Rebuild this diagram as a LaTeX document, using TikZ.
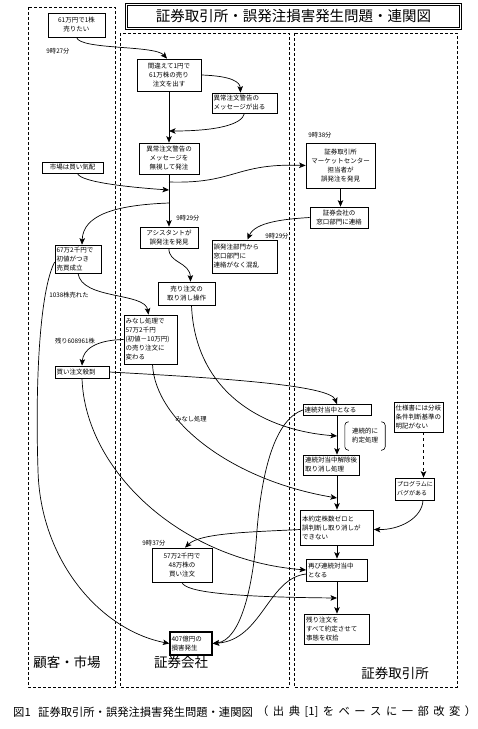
\documentclass[tikz,border=0pt]{standalone}
\usepackage{fontspec}
\newfontfamily\jp{Noto Sans CJK JP}
\usetikzlibrary{arrows.meta}
\tikzset{
  lane/.style={draw, dash pattern=on 3pt off 2pt, line width=0.8pt},
  box/.style={draw, line width=0.7pt, inner sep=1.5pt, font=\jp\fontsize{6.5}{9}\selectfont, align=center},
  lbox/.style={box, align=left},
  arr/.style={line width=0.7pt, -{Stealth[length=6.5pt,width=5.5pt,inset=1.5pt]}},
  lbl/.style={font=\jp\fontsize{6.3}{7}\selectfont, inner sep=0pt},
  lanelbl/.style={font=\jp\fontsize{13.5}{15}\selectfont, inner sep=0pt},
  captxt/.style={font=\jp\fontsize{11.3}{13}\selectfont, inner sep=0pt, anchor=west},
}
\begin{document}
\begin{tikzpicture}[x=1pt,y=-1pt]
\useasboundingbox (0,0) rectangle (478,729);
% lanes
\draw[lane] (28,7) rectangle (115,687);
\draw[lane] (120,33) rectangle (289,687);
\draw[lane] (294,33) rectangle (457,687);
\node[draw, double, double distance=1.8pt, line width=0.5pt, minimum width=334pt, minimum height=24pt, inner sep=0pt,
  font=\jp\fontsize{14.5}{16}\selectfont] (title) at (293.5,16.5) {証券取引所・誤発注損害発生問題・連関図};
\node[lanelbl] (L1) at (67,662) {顧客・市場};
\node[lanelbl] (L2) at (181,662) {証券会社};
\node[lanelbl] (L3) at (395,673) {証券取引所};
% caption
\node[captxt] (cap1) at (13,712) {図1};
\node[captxt] (cap2) at (38,712) {証券取引所・誤発注損害発生問題・連関図};
\node[captxt] (cap3) at (257,712)
  {\makebox[219pt][l]{（\hfill 出\hfill 典\hfill [1]\hfill を\hfill ベ\hfill ー\hfill ス\hfill に\hfill 一\hfill 部\hfill 改\hfill 変\hfill ）}};
% nodes
\node[box, minimum width=57pt, minimum height=24pt] (n1) at (76.5,25) {61万円で1株\\売りたい};
\node[box, minimum width=64pt, minimum height=32pt] (n2) at (169,75) {間違えて1円で\\61万株の売り\\注文を出す};
\node[lbox, text width=62pt, minimum height=20pt] (n3) at (244.5,103) {異常注文警告の\\メッセージが出る};
\node[box, minimum width=60pt, minimum height=31pt] (n4) at (169,158.5) {異常注文警告の\\メッセージを\\無視して発注};
\node[box, minimum width=61pt, minimum height=11pt] (n5) at (72.5,167.5) {市場は買い気配};
\node[box, minimum width=69pt, minimum height=45pt] (n6) at (340.5,165.5) {証券取引所\\マーケットセンター\\担当者が\\誤発注を発見};
\node[box, minimum width=58pt, minimum height=21pt] (n7) at (339,217.5) {証券会社の\\窓口部門に連絡};
\node[box, minimum width=58pt, minimum height=21pt] (n8) at (169,237.5) {アシスタントが\\誤発注を発見};
\node[lbox, text width=43pt, minimum height=28pt] (n9) at (78,259) {67万2千円で\\初値がつき\\売買成立};
\node[lbox, text width=62pt, minimum height=33pt] (n10) at (244.5,256.5) {誤発注部門から\\窓口部門に\\連絡がなく混乱};
\node[box, minimum width=57pt, minimum height=23pt] (n11) at (186.5,293.5) {売り注文の\\取り消し操作};
\node[lbox, text width=50pt, minimum height=49pt] (n12) at (150.5,339.5) {みなし処理で\\57万2千円\\(初値－10万円)\\の売り注文に\\変わる};
\node[lbox, text width=51pt, minimum height=12pt] (n13) at (82,372) {買い注文殺到};
\node[lbox, text width=65pt, minimum height=11pt] (n14) at (337,410) {連続対当中となる};
\node[font=\jp\fontsize{6.5}{9}\selectfont, align=left, minimum width=40pt, minimum height=28pt, inner sep=1pt] (bn) at (365,436) {連続的に\\約定処理};
\draw[line width=0.6pt, rounded corners=3.5pt] ([xshift=4pt]bn.north west) -- (bn.north west) -- (bn.south west) -- ([xshift=4pt]bn.south west);
\draw[line width=0.6pt, rounded corners=3.5pt] ([xshift=-4pt]bn.north east) -- (bn.north east) -- (bn.south east) -- ([xshift=-4pt]bn.south east);
\node[lbox, text width=53pt, minimum height=20pt] (n16) at (331.5,465) {連続対当中解除後\\取り消し処理};
\node[lbox, text width=46pt, minimum height=30pt] (n17) at (418.5,417) {仕様書には分岐\\条件判断基準の\\明記がない};
\node[lbox, text width=36pt, minimum height=22pt, font=\jp\fontsize{6}{9}\selectfont] (n18) at (415,489) {プログラムに\\バグがある};
\node[lbox, text width=70pt, minimum height=35pt] (n19) at (337,527.5) {本約定株数ゼロと\\誤判断し取り消しが\\できない};
\node[box, minimum width=60pt, minimum height=34pt] (n20) at (182,565) {57万2千円で\\48万株の\\買い注文};
\node[lbox, text width=58pt, minimum height=22pt] (n21) at (337,570) {再び連続対当中\\となる};
\node[lbox, text width=62pt, minimum height=30pt] (n22) at (337,629) {残り注文を\\すべて約定させて\\事態を収拾};
\node[lbox, text width=39pt, minimum height=23pt, line width=1.3pt] (n23) at (191,643.5) {407億円の\\損害発生};
% labels
\node[lbl] (t1) at (58,51) {9時27分};
\node[lbl] (t2) at (320,135) {9時38分};
\node[lbl] (t3) at (188,218) {9時29分};
\node[lbl] (t4) at (277,236) {9時29分};
\node[lbl] (t5) at (154,543) {9時37分};
\node[lbl] (s1) at (69,295) {1038株売れた};
\node[lbl] (s2) at (75,341) {残り608961株};
\node[lbl] (mn) at (191,419) {みなし処理};
% junction coordinates
\coordinate (j0) at (169,182);
\coordinate (j1) at (169,131);
\coordinate (j2) at (169,190);
\coordinate (jh) at (169,203);
\coordinate (j3) at (337,436);
\coordinate (j4) at (337,498);
\coordinate (j5) at (337,598);
% connectors
\draw[arr] (n1.south) .. controls (80,50) and (155,45) .. ([xshift=-2pt]n2.north);
\draw[arr] (n2.east) .. controls (232,76) and (240,82) .. ([xshift=-4pt]n3.north);
\draw[arr] (n2) -- (n4);
\draw[arr] (n3.south) .. controls (242,125) and (215,131) .. (j1);
\draw[arr] (n4) -- (n8);
\draw[arr] ([xshift=5pt]n5.south) .. controls (80,183) and (140,188) .. (j2);
\draw[arr] (j0) .. controls (235,184) and (235,163) .. (n6.west);
\draw[arr] (jh) .. controls (115,205) and (83,215) .. ([xshift=4pt]n9.north);
\draw[arr] (n6.south) -- (n6.south |- n7.north);
\draw[arr] (n7.west) .. controls (285,219) and (255,222) .. ([xshift=3pt]n10.north);
\draw[arr] (n8.south) .. controls (168,263) and (190,262) .. ([xshift=4pt]n11.north);
\draw[arr] (n9.south) .. controls (82,300) and (145,292) .. ([xshift=-2pt]n12.north);
\draw[arr] (n12.west) .. controls (95,340) and (83,350) .. (n13.north);
\draw[arr] ([xshift=5pt]n11.south) .. controls (195,390) and (260,430) .. (j3);
\draw[arr] ([xshift=2pt]n12.south) .. controls (155,420) and (230,480) .. (j4);
\draw[arr] (n13.east) .. controls (220,378) and (330,385) .. (n14.north);
\draw[arr] (n14.south) -- (n14.south |- n16.north);
\draw[arr] (n14.south |- n16.south) -- (n14.south |- n19.north);
\draw[arr, dashed] ([xshift=5pt]n17.south) -- ([xshift=5pt]n17.south |- n18.north);
\draw[arr] ([xshift=8pt]n18.south) .. controls (422,518) and (400,530) .. ([yshift=-2pt]n19.east);
\draw[arr] (n19.south) -- (n19.south |- n21.north);
\draw[arr] (n21) -- (n22);
\draw[arr] ([yshift=-2pt]n19.west) .. controls (250,532) and (200,533) .. ([xshift=3pt]n20.north);
\draw[arr] (n20.south) .. controls (185,592) and (230,597) .. (j5);
\draw[arr] (n13.south) .. controls (85,470) and (180,560) .. (n21.west);
\draw[arr] ([yshift=-3pt]n9.west) .. controls (40,290) and (35,380) .. (38,470) .. controls (40,560) and (100,630) .. (n23.west);
\draw[arr] (n14.west) .. controls (275,420) and (262,470) .. (257,530) .. controls (253,590) and (240,640) .. (n23.east);
\draw[arr] ([yshift=-4pt]n21.west) .. controls (268,578) and (262,640) .. (n23.east);
\end{tikzpicture}
\end{document}
